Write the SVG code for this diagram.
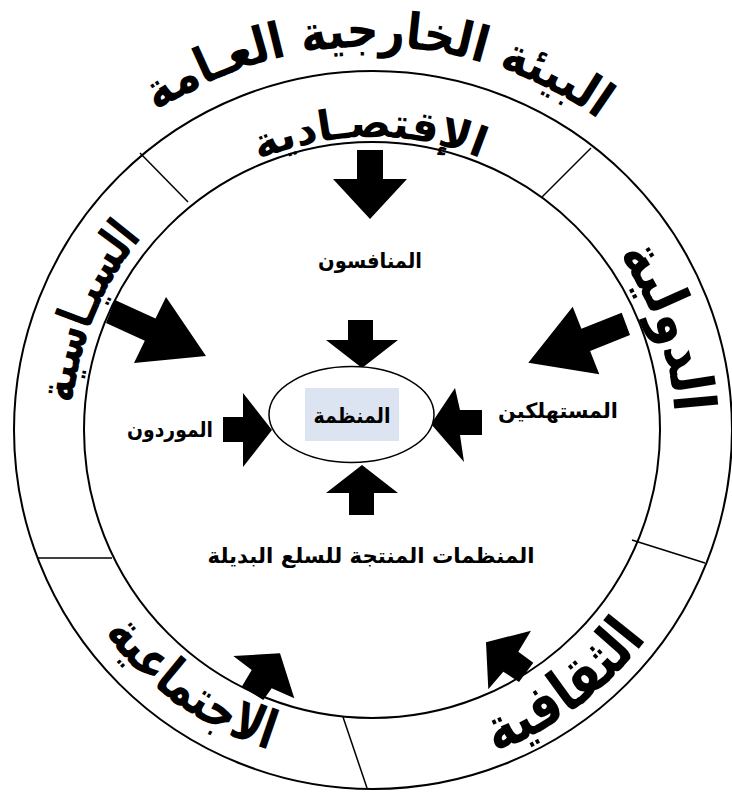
<svg xmlns="http://www.w3.org/2000/svg" width="732" height="793" viewBox="0 0 732 793">
  <style>
    .ring { fill: none; stroke: #000; stroke-width: 2; }
    .divider { stroke: #000; stroke-width: 1.5; }
    .arrow { fill: #000; stroke: none; }
    .ringtext { font-family: "DejaVu Sans", sans-serif; font-weight: bold; fill: #000; }
    .label { font-family: "DejaVu Sans", sans-serif; font-weight: bold; font-size: 21px; fill: #000; text-anchor: middle; }
  </style>
  <defs>
    <path id="arcTitle" d="M40.6,231 A390,390 0 0 1 710.1,242.5"/>
    <path id="arcEcon" d="M118,287 A290,290 0 0 1 623.4,282.6"/>
    <path id="arcPol" d="M134,612.6 A300,300 0 0 1 332.8,132.6"/>
    <path id="arcIntl" d="M432,133.6 A305,305 0 0 1 607,624.4"/>
    <path id="arcSoc" d="M37.4,399 A336,336 0 0 0 512.4,735.3"/>
    <path id="arcCult" d="M236.1,747.1 A345,345 0 0 0 714.6,389.2"/>
  </defs>
  <rect width="732" height="793" fill="#fff"/>

  <!-- environment rings -->
  <g id="rings">
    <circle class="ring" cx="373" cy="430" r="359"/>
    <circle class="ring" cx="372" cy="430" r="288"/>
  </g>

  <!-- sector dividers and force arrows -->
  <g id="connectors">
    <line class="divider" x1="140" y1="153" x2="188" y2="202"/>
    <line class="divider" x1="591" y1="148" x2="542" y2="197"/>
    <line class="divider" x1="38" y1="558" x2="112" y2="558"/>
    <line class="divider" x1="343" y1="717" x2="367" y2="788"/>
    <line class="divider" x1="632" y1="540" x2="705" y2="563"/>

    <!-- outer forces -->
    <polygon class="arrow" points="357,150 383,150 383,179 407,179 370,219 333,179 357,179"/>
    <polygon class="arrow" points="115,300 155.5,318.6 166,297 206,356 134,363 144.8,340.8 106,323"/>
    <polygon class="arrow" points="621.7,312.7 581.4,328.8 572.7,306.7 528.3,362.7 599.3,374.3 590.1,350.9 630,335"/>
    <polygon class="arrow" points="251.7,670 233.3,656 280,653.3 294.3,698.3 271.7,688.3 263.3,700 241.7,686.7"/>
    <polygon class="arrow" points="518.3,651.7 531,630.7 486,642.3 488.3,689.3 503.3,671.7 519,682 533.3,662.7"/>

    <!-- task forces around the organisation -->
    <polygon class="arrow" points="348,320 373,320 373,340 398,340 362,368 326,340 348,340"/>
    <polygon class="arrow" points="349,515 374,515 374,493 398,493 362,465 326,493 349,493"/>
    <polygon class="arrow" points="223,417 243,417 243,393 272,430 243,467 243,442 223,442"/>
    <polygon class="arrow" points="482,410 460,410 455,388 431,424 464,462 460,435 482,435"/>
  </g>

  <!-- ring labels -->
  <g id="title">
    <text class="ringtext" font-size="50"><textPath href="#arcTitle" startOffset="50%" text-anchor="middle" textLength="470" lengthAdjust="spacingAndGlyphs">البيئة الخارجية العـامة</textPath></text>
  </g>
  <g id="economic">
    <text class="ringtext" font-size="42"><textPath href="#arcEcon" startOffset="50%" text-anchor="middle" textLength="228" lengthAdjust="spacingAndGlyphs">الإقتصـادية</textPath></text>
  </g>
  <g id="political">
    <text class="ringtext" font-size="50"><textPath href="#arcPol" startOffset="50%" text-anchor="middle" textLength="182" lengthAdjust="spacingAndGlyphs">السيـاسية</textPath></text>
  </g>
  <g id="international">
    <text class="ringtext" font-size="58"><textPath href="#arcIntl" startOffset="50%" text-anchor="middle" textLength="170" lengthAdjust="spacingAndGlyphs">الدولية</textPath></text>
  </g>
  <g id="social">
    <text class="ringtext" font-size="54"><textPath href="#arcSoc" startOffset="50%" text-anchor="middle" textLength="205" lengthAdjust="spacingAndGlyphs">الاجتماعية</textPath></text>
  </g>
  <g id="cultural">
    <text class="ringtext" font-size="60"><textPath href="#arcCult" startOffset="50%" text-anchor="middle" textLength="192" lengthAdjust="spacingAndGlyphs">الثقافية</textPath></text>
  </g>

  <!-- task environment -->
  <g id="competitors"><text class="label" x="370" y="268" textLength="104" lengthAdjust="spacingAndGlyphs">المنافسون</text></g>
  <g id="consumers"><text class="label" x="558" y="418" textLength="120" lengthAdjust="spacingAndGlyphs">المستهلكين</text></g>
  <g id="suppliers"><text class="label" x="170" y="437" textLength="86" lengthAdjust="spacingAndGlyphs">الموردون</text></g>
  <g id="substitutes"><text class="label" x="371" y="563" textLength="327" lengthAdjust="spacingAndGlyphs">المنظمات المنتجة للسلع البديلة</text></g>

  <g id="organisation">
    <ellipse cx="351.5" cy="414.5" rx="82.5" ry="48" fill="#fff" stroke="#000" stroke-width="1.5"/>
    <rect x="305" y="388" width="94" height="53" fill="#dbe4f0"/>
    <text class="label" x="352" y="423" font-size="22" textLength="77" lengthAdjust="spacingAndGlyphs">المنظمة</text>
  </g>
</svg>
